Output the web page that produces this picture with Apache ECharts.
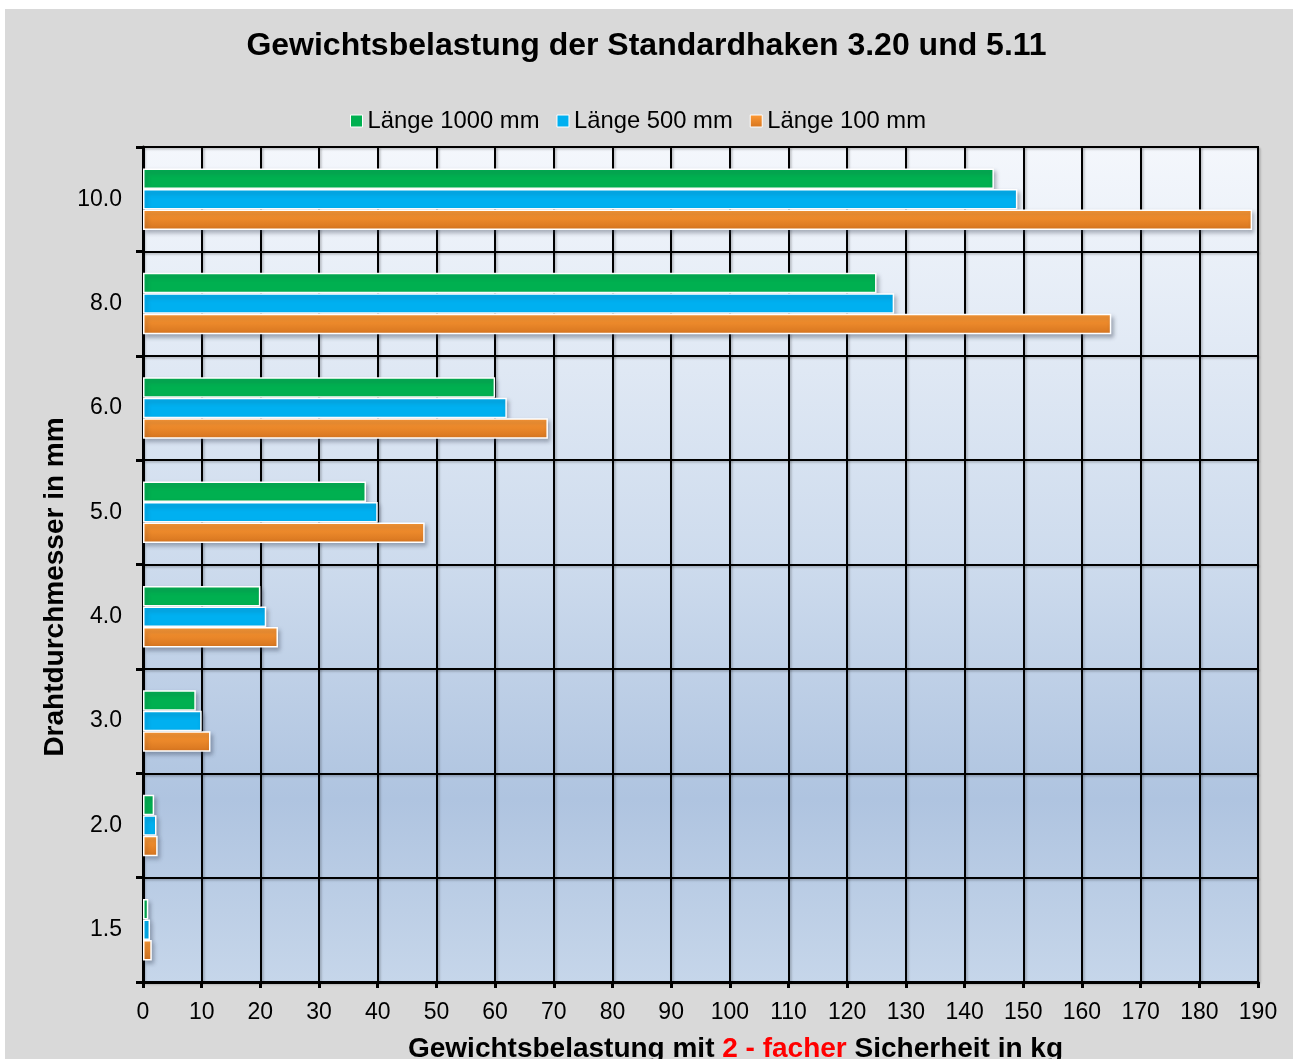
<!DOCTYPE html>
<html>
<head>
<meta charset="utf-8">
<script src="https://cdn.jsdelivr.net/npm/echarts@6/dist/echarts.min.js"></script>
<style>
  html, body { margin: 0; padding: 0; background: #ffffff; }
  #frame { position: absolute; left: 5px; top: 9px; width: 1288px; height: 1050px; background: #d9d9d9; }
  #chart { position: absolute; left: 0; top: 0; width: 1293px; height: 1059px; }
</style>
</head>
<body>
<div id="frame"></div>
<div id="chart"></div>
<script>
// Wire diameters (mm), bottom to top
const diameters = ['1.5', '2.0', '3.0', '4.0', '5.0', '6.0', '8.0', '10.0'];
// Load capacity in kg with 2x safety factor, per hook length
const load1000 = [0.9, 1.9, 9, 20, 38, 60, 125, 145];
const load500 = [1.2, 2.3, 10, 21, 40, 62, 128, 149];
const load100 = [1.5, 2.5, 11.5, 23, 48, 69, 165, 189];
const seriesNames = ['Länge 1000 mm', 'Länge 500 mm', 'Länge 100 mm'];
const xMin = 0, xMax = 190, xStep = 10;

const FONT = '"Liberation Sans", Arial, sans-serif';
const chart = echarts.init(document.getElementById('chart'), null, { renderer: 'canvas' });

const barShadow = {
  borderColor: '#ffffff',
  borderWidth: 1.5,
  shadowColor: 'rgba(40,50,70,0.35)',
  shadowBlur: 4,
  shadowOffsetX: 2,
  shadowOffsetY: 3
};

const gridLine = {
  color: '#000000',
  width: 2,
  shadowColor: 'rgba(0,0,0,0.25)',
  shadowBlur: 2,
  shadowOffsetX: 1.5,
  shadowOffsetY: 1.5
};

const option = {
  backgroundColor: 'transparent',
  animation: false,
  title: {
    text: 'Gewichtsbelastung der Standardhaken 3.20 und 5.11',
    left: 'center',
    top: 25,
    textStyle: { fontFamily: FONT, fontSize: 32, fontWeight: 'bold', color: '#000000' }
  },
  legend: {
    data: seriesNames,
    top: 104,
    left: 345,
    itemWidth: 12,
    itemHeight: 12,
    itemGap: 17,
    icon: 'rect',
    textStyle: { fontFamily: FONT, fontSize: 23.8, color: '#000000' },
    itemStyle: { borderColor: '#ffffff', borderWidth: 1 }
  },
  grid: {
    left: 143,
    right: 35,
    top: 147,
    bottom: 77,
    outerBoundsMode: 'none',
    containLabel: false,
    show: true,
    borderColor: '#000000',
    borderWidth: 2,
    backgroundColor: {
      type: 'linear', x: 0, y: 0, x2: 0, y2: 1,
      colorStops: [
        { offset: 0, color: '#f4f7fc' },
        { offset: 0.5, color: '#cddbed' },
        { offset: 0.78, color: '#afc4e0' },
        { offset: 1, color: '#c6d6ea' }
      ]
    }
  },
  xAxis: {
    type: 'value',
    min: xMin,
    max: xMax,
    interval: xStep,
    name: '{b|Gewichtsbelastung mit }{r|2 - facher}{b| Sicherheit in kg}',
    nameLocation: 'middle',
    nameGap: 53,
    nameTextStyle: {
      padding: [0, 0, 0, 70],
      rich: {
        b: { fontFamily: FONT, fontSize: 28, fontWeight: 'bold', color: '#000000' },
        r: { fontFamily: FONT, fontSize: 28, fontWeight: 'bold', color: '#ff0000' }
      }
    },
    axisLine: { show: true, lineStyle: { color: '#000000', width: 3 } },
    axisTick: { show: true, length: 6, lineStyle: { color: '#000000', width: 3 } },
    axisLabel: { margin: 19, fontFamily: FONT, fontSize: 23, color: '#000000' },
    splitLine: { show: true, lineStyle: gridLine }
  },
  yAxis: {
    type: 'category',
    data: diameters,
    axisLine: { show: true, lineStyle: { color: '#000000', width: 3 } },
    axisTick: { show: true, length: 7, lineStyle: { color: '#000000', width: 3 } },
    axisLabel: { margin: 21, fontFamily: FONT, fontSize: 23, color: '#000000' },
    splitLine: { show: true, lineStyle: gridLine }
  },
  graphic: [
    {
      type: 'text',
      x: 55,
      y: 587,
      rotation: Math.PI / 2,
      style: {
        text: 'Drahtdurchmesser in mm',
        fontFamily: FONT,
        fontSize: 28,
        fontWeight: 'bold',
        fill: '#000000',
        align: 'center',
        verticalAlign: 'middle'
      }
    }
  ],
  series: [
    {
      name: seriesNames[0],
      type: 'bar',
      data: load1000,
      barWidth: 20.5,
      barGap: '0%',
      itemStyle: Object.assign({ color: '#00b050' }, barShadow)
    },
    {
      name: seriesNames[1],
      type: 'bar',
      data: load500,
      barWidth: 20.5,
      barGap: '0%',
      itemStyle: Object.assign({ color: '#00b0f0' }, barShadow)
    },
    {
      name: seriesNames[2],
      type: 'bar',
      data: load100,
      barWidth: 20.5,
      barGap: '0%',
      itemStyle: Object.assign({
        color: {
          type: 'linear', x: 0, y: 0, x2: 0, y2: 1,
          colorStops: [
            { offset: 0, color: '#ff9a34' },
            { offset: 1, color: '#d5741f' }
          ]
        }
      }, barShadow)
    }
  ]
};

chart.setOption(option);
</script>
</body>
</html>
